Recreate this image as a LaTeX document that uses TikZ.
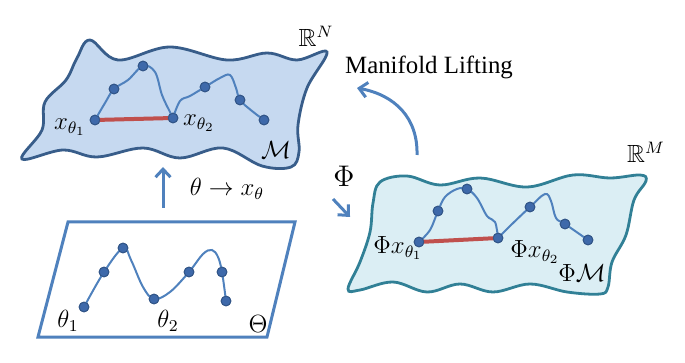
\documentclass[tikz,border=0pt]{standalone}
\usepackage{amssymb}
\usepackage[no-math]{fontspec}
\setmainfont{Liberation Serif}
\usetikzlibrary{arrows.meta}
\definecolor{fillA}{RGB}{198,217,240}
\definecolor{lineA}{RGB}{56,93,138}
\definecolor{fillB}{RGB}{219,238,244}
\definecolor{lineB}{RGB}{49,128,150}
\definecolor{curvec}{RGB}{79,129,189}
\definecolor{dotc}{RGB}{62,105,170}
\definecolor{dotedge}{RGB}{50,85,135}
\definecolor{redc}{RGB}{192,80,77}
\definecolor{arrc}{RGB}{79,129,189}
\tikzset{
  blobA/.style={fill=fillA, draw=lineA, line width=2.8pt},
  blobB/.style={fill=fillB, draw=lineB, line width=2.8pt},
  curve/.style={draw=curvec, line width=2pt},
  dot/.style={circle, inner sep=0pt, minimum size=10pt, fill=dotc, draw=dotedge, line width=0.8pt},
  geod/.style={draw=redc, line width=4pt},
  bigarrow/.style={draw=arrc, line width=3pt, -{Straight Barb[length=8pt,width=15pt]}},
  lbl/.style={font=\fontsize{12}{14.4}\selectfont, inner sep=0pt, scale=2.07},
}
\begin{document}
\begin{tikzpicture}[x=1pt,y=-1pt]
\useasboundingbox (0,0) rectangle (685,363);

% top manifold
\draw[blobA] plot[smooth cycle, tension=0.6] coordinates {
 (22,159) (42,130) (45,102) (66,80) (77,58) (90,40)
 (118,60) (170,47) (227,60) (267,53) (297,60) (327,52)
 (307,88) (298,125) (299,152) (291,167)
 (262,166) (223,148) (180,158) (143,148) (97,157) (63,150)};

% lower manifold
\draw[blobB] plot[smooth cycle, tension=0.6] coordinates {
 (380,182) (407,176) (440,185) (480,178) (527,187) (573,175) (610,178) (640,175) (646,181)
 (634,200) (626,235) (612,262) (608,287)
 (600,294) (567,292) (530,284) (493,292) (460,284) (427,292) (393,282) (360,290) (348,289)
 (360,262) (370,232) (373,203)};

% parameter space
\draw[draw=arrc, line width=3pt, line join=miter] (68,222) -- (295,222) -- (267,337) -- (38,337) -- cycle;

% dots top
\node[dot] (d1) at (95,120) {};
\node[dot] (d2) at (114,89) {};
\node[dot] (d3) at (143,66) {};
\node[dot] (d4) at (173,118) {};
\node[dot] (d5) at (205,87) {};
\node[dot] (d6) at (240,100) {};
\node[dot] (d7) at (264,120) {};
% dots lower
\node[dot] (e1) at (419,242) {};
\node[dot] (e2) at (438,211) {};
\node[dot] (e3) at (467,189) {};
\node[dot] (e4) at (498,238) {};
\node[dot] (e5) at (530,207) {};
\node[dot] (e6) at (565,224) {};
\node[dot] (e7) at (588,240) {};
% dots theta
\node[dot] (f1) at (84,307) {};
\node[dot] (f2) at (104,272) {};
\node[dot] (f3) at (123,248) {};
\node[dot] (f4) at (154,299) {};
\node[dot] (f5) at (189,272) {};
\node[dot] (f6) at (222,272) {};
\node[dot] (f7) at (226,301) {};

% curves
\draw[curve] plot[smooth, tension=0.6] coordinates {
 (d1.center) (105,103) (d2.center) (128,80) (d3.center) (155,72) (162,95) (170,112) (d4.center)};
\draw[curve] plot[smooth, tension=0.6] coordinates {
 (d4.center) (180,101) (190,96) (d5.center) (220,78) (230,75) (236,88) (d6.center) (252,111) (d7.center)};
\draw[curve] plot[smooth, tension=0.6] coordinates {
 (e1.center) (430,230) (e2.center) (445,197) (457,189) (e3.center) (477,198) (487,216) (495,222) (e4.center)};
\draw[curve] plot[smooth, tension=0.6] coordinates {
 (e4.center) (510,226) (e5.center) (545,194) (551,201) (556,218) (e6.center) (e7.center)};
\draw[curve] plot[smooth, tension=0.6] coordinates {
 (f1.center) (f2.center) (f3.center) (131,260) (143,287) (f4.center) (170,292) (f5.center) (203,254) (212,250) (218,257) (f6.center) (f7.center)};

% geodesic chords
\draw[geod] (d1.center) -- (d4.center);
\draw[geod] (e1.center) -- (e4.center);

% redraw dots on top
\foreach \n in {d1,d2,d3,d4,d5,d6,d7,e1,e2,e3,e4,e5,e6,e7,f1,f2,f3,f4,f5,f6,f7}
  \fill[dotc, draw=dotedge, line width=0.8pt] (\n.center) circle (4.8pt);

% labels
\node[lbl] (lx1) at (70,127) {$x_{\theta_1}$};
\node[lbl] (lx2) at (199,123) {$x_{\theta_2}$};
\node[lbl] (lM) at (276,150) {$\mathcal{M}$};
\node[lbl] (lRN) at (316,36) {$\mathbb{R}^N$};
\node[lbl] (lML) at (429,67) {Manifold Lifting};
\node[lbl] (lRM) at (646,152) {$\mathbb{R}^M$};
\node[lbl, scale=1.2] (lPhi) at (344,176) {$\Phi$};
\node[lbl] (lmap) at (227,189) {$\theta\to x_\theta$};
\node[lbl] (lpx1) at (398,248) {$\Phi x_{\theta_1}$};
\node[lbl] (lpx2) at (535,252) {$\Phi x_{\theta_2}$};
\node[lbl] (lPM) at (582,273) {$\Phi\mathcal{M}$};
\node[lbl] (lt1) at (68,321) {$\theta_1$};
\node[lbl] (lt2) at (168,321) {$\theta_2$};
\node[lbl] (lTh) at (258,324) {$\Theta$};

% arrows
\coordinate (a1s) at (163,208);
\coordinate (a1e) at (163,167);
\draw[bigarrow] (a1s) -- (a1e);
\coordinate (a2s) at (333,199);
\coordinate (a2e) at (350,217);
\draw[bigarrow] (a2s) -- (a2e);
\coordinate (a3s) at (417,155);
\coordinate (a3e) at (357,88);
\draw[bigarrow] (a3s) .. controls (418,118) and (395,95) .. (a3e);
\end{tikzpicture}
\end{document}
